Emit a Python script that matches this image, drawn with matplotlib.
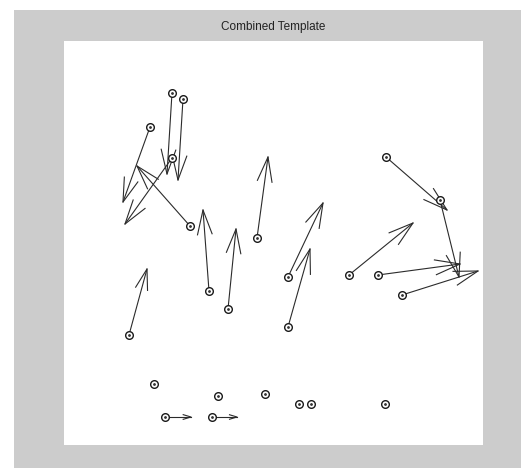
import numpy as np
import matplotlib
matplotlib.use('Agg')
import matplotlib.pyplot as plt
from matplotlib.patches import Rectangle

# Minutiae positions (template pixel coords) and orientation vectors
min_x = np.array([108, 119, 86, 108, 126, 145, 164, 193, 224, 224,
                  322, 376, 285, 314, 338, 65,
                  90, 154, 201, 235, 247, 321, 101, 148])
min_y = np.array([52, 58, 86, 117, 185, 250, 268, 197, 236, 286,
                  116, 159, 234, 234, 254, 294,
                  343, 355, 353, 363, 363, 363, 376, 376])
min_u = np.array([-5, -5, -27, -47, -53, -6, 8, 11, 35, 22,
                  61, 19, 64, 82, 76, 18,
                  0, 0, 0, 0, 0, 0, 26, 25])
min_v = np.array([81, 81, 75, 66, -60, -81, -80, -81, -74, -78,
                  53, 77, -52, -11, -24, -66,
                  0, 0, 0, 0, 0, 0, 0, 0])

WIDTH, HEIGHT = 419, 404
LINE_COLOR = '#2b2b2b'


def draw_quiver(ax, x, y, u, v, alpha=0.3, beta=0.3):
    """Quiver with open two-barb heads (shaft + barbs as plain lines)."""
    for xi, yi, ui, vi in zip(x, y, u, v):
        if ui == 0 and vi == 0:
            continue
        tx, ty = xi + ui, yi + vi
        ax.plot([xi, tx], [yi, ty], color=LINE_COLOR, lw=0.8)
        b1 = (tx - alpha * (ui + beta * vi), ty - alpha * (vi - beta * ui))
        b2 = (tx - alpha * (ui - beta * vi), ty - alpha * (vi + beta * ui))
        ax.plot([b1[0], tx, b2[0]], [b1[1], ty, b2[1]], color=LINE_COLOR, lw=0.8)


fig = plt.figure(figsize=(5.21, 4.68), dpi=100)
fig.patch.set_facecolor('white')
fig.patches.append(Rectangle((14 / 521, 0), 1 - 14 / 521, 1 - 10 / 468,
                             transform=fig.transFigure, facecolor='#cccccc',
                             edgecolor='none', zorder=-1))

ax = fig.add_axes([64 / 521, 23 / 468, 419 / 521, 404 / 468])
ax.set_facecolor('white')

draw_quiver(ax, min_x, min_y, min_u, min_v)
ax.plot(min_x, min_y, 'o', ms=5.5, mfc='white', mec='#1a1a1a', mew=1.0, zorder=5)
ax.plot(min_x, min_y, '.', ms=2, color='#333333', zorder=6)

ax.set_xlim(0, WIDTH)
ax.set_ylim(HEIGHT, 0)
ax.set_xticks([])
ax.set_yticks([])
for s in ax.spines.values():
    s.set_visible(False)

fig.text(273 / 521, 1 - 27 / 468, 'Combined Template', ha='center', va='center',
         fontsize=8.5, family='Liberation Sans', color='#222222')

fig.savefig('out.png', dpi=100, facecolor=fig.get_facecolor())
